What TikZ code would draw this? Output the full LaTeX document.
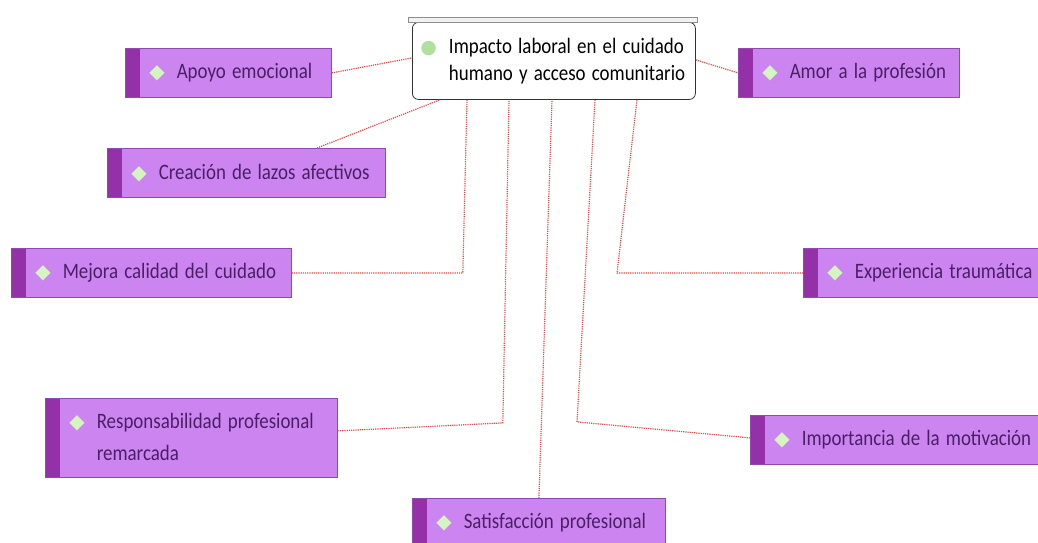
\documentclass[tikz,border=0pt]{standalone}
\usepackage{fontspec}
\setmainfont{Carlito}
\newfontfamily\mapfont[FakeStretch=0.86]{Carlito}
\newfontfamily\symfont{DejaVu Sans}

\definecolor{leaffill}{HTML}{CC85F0}
\definecolor{leafstrip}{HTML}{9430A8}
\definecolor{leafborder}{HTML}{8E4AAE}
\definecolor{leaftext}{HTML}{4A1F66}
\definecolor{iconfill}{HTML}{D4F5C0}
\definecolor{linkred}{HTML}{E84848}
\definecolor{hubicon}{HTML}{B0E0A0}

\newcommand{\leafmark}{\hspace*{24pt}{\symfont\fontsize{20}{20}\selectfont\textcolor{iconfill}{◆}}\hspace{12pt}}
\newcommand{\hubmark}{\hspace*{8pt}{\symfont\fontsize{19}{19}\selectfont\textcolor{hubicon}{●}}\hspace{12pt}}

\begin{document}
\begin{tikzpicture}[x=1pt, y=-1pt,
        leaf/.style={rectangle, draw=leafborder, fill=leaffill, thick, minimum height=49pt, inner xsep=0pt, text width=#1, align=left, anchor=north west, text=leaftext, font=\mapfont\fontsize{22}{32}\selectfont,
            execute at begin node={\spaceskip=0.28em\relax},
            path picture={\fill[leafstrip] (path picture bounding box.north west) rectangle ([xshift=15pt]path picture bounding box.south west);}},
        hub/.style={rectangle, draw=black!80, fill=white, thick, rounded corners=6pt, minimum height=77pt, inner xsep=0pt, text width=283pt, align=left, anchor=north west, font=\mapfont\fontsize{22}{27}\selectfont,
            execute at begin node={\spaceskip=0.28em\relax}},
        link/.style={draw=linkred, densely dotted, line width=1.2pt},
    ]
    \useasboundingbox (0,0) rectangle (1038,542);

    \node[hub] (Hub) at (412,22) {\hubmark Impacto laboral en el cuidado\\\phantom{\hubmark}humano y acceso comunitario};
    \draw[black!45, fill=black!5, line width=0.8pt] ([xshift=-4pt]Hub.north west) rectangle ([xshift=2pt,yshift=5pt]Hub.north east);

    \node[leaf=206pt] (Apoyo) at (125,48) {\leafmark Apoyo emocional};
    \node[leaf=278pt] (Lazos) at (107,148) {\leafmark Creación de lazos afectivos};
    \node[leaf=280pt] (Mejora) at (11,248) {\leafmark Mejora calidad del cuidado};
    \node[leaf=292pt, minimum height=79pt] (Resp) at (45,398) {\leafmark Responsabilidad profesional\\\phantom{\leafmark}remarcada};
    \node[leaf=253pt] (Satis) at (412,498) {\leafmark Satisfacción profesional};
    \node[leaf=288pt] (Motiv) at (750,415) {\leafmark Importancia de la motivación};
    \node[leaf=235pt] (Trauma) at (803,248) {\leafmark Experiencia traumática};
    \node[leaf=221pt] (Amor) at (738,48) {\leafmark Amor a la profesión};

    \draw[link] (Apoyo.east) -- ([yshift=3pt]Hub.west);
    \draw[link] ([xshift=210pt]Lazos.north west) -- ([xshift=28pt]Hub.south west);
    \draw[link] (Mejora.east) -- ++(171,0) -- ([xshift=55pt]Hub.south west);
    \draw[link] ([yshift=7pt]Resp.east) -- ++(165,-8) -- ([xshift=97pt]Hub.south west);
    \draw[link] (Satis.north) -- ([xshift=140pt]Hub.south west);
    \draw[link] ([yshift=2pt]Motiv.west) -- ++(-173,-16) -- ([xshift=183pt]Hub.south west);
    \draw[link] (Trauma.west) -- ++(-186,0) -- ([xshift=225pt]Hub.south west);
    \draw[link] ([yshift=1pt]Hub.east) -- (Amor.west);
\end{tikzpicture}
\end{document}
